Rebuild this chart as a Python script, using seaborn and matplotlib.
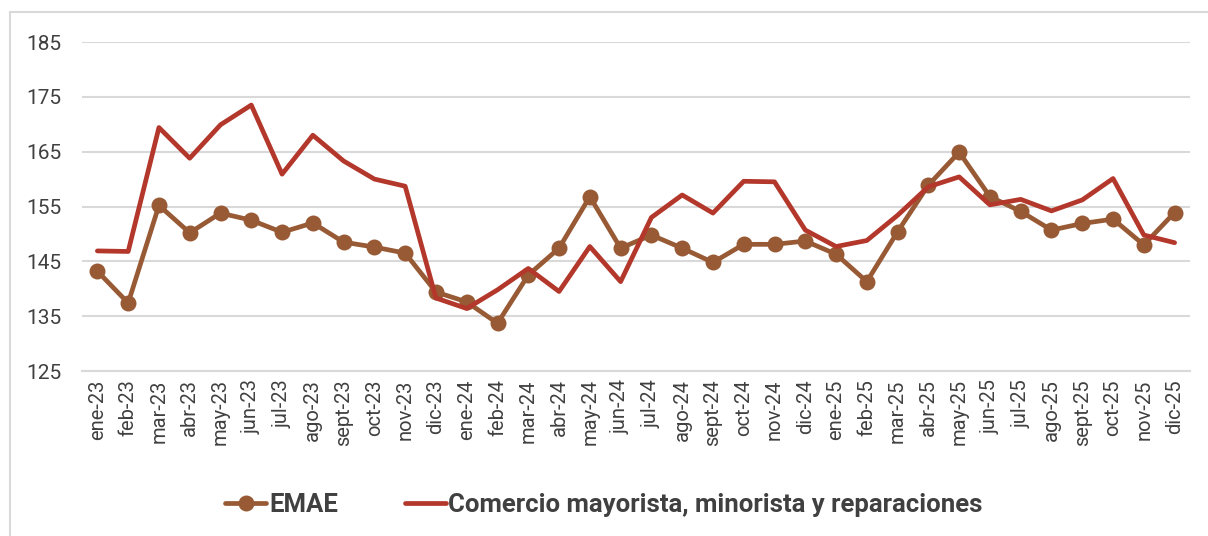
import matplotlib
matplotlib.use("Agg")
import matplotlib.pyplot as plt
import matplotlib.patches as patches
import pandas as pd
import seaborn as sns

# Data
months = ["ene-23", "feb-23", "mar-23", "abr-23", "may-23", "jun-23", "jul-23", "ago-23",
          "sept-23", "oct-23", "nov-23", "dic-23",
          "ene-24", "feb-24", "mar-24", "abr-24", "may-24", "jun-24", "jul-24", "ago-24",
          "sept-24", "oct-24", "nov-24", "dic-24",
          "ene-25", "feb-25", "mar-25", "abr-25", "may-25", "jun-25", "jul-25", "ago-25",
          "sept-25", "oct-25", "nov-25", "dic-25"]
emae = [143.2, 137.4, 155.2, 150.2, 153.8, 152.5, 150.3, 152.0, 148.5, 147.6, 146.5,
        139.4, 137.6, 133.7, 142.5, 147.4, 156.8, 147.4, 149.8, 147.4, 144.8, 148.1,
        148.1, 148.7, 146.3, 141.3, 150.4, 158.9, 164.9, 156.8, 154.1, 150.7, 151.9,
        152.7, 148.0, 153.9]
comercio = [146.9, 146.8, 169.4, 163.8, 169.9, 173.5, 160.9, 168.0, 163.3, 160.0, 158.7,
            138.3, 136.4, 139.8, 143.7, 139.5, 147.7, 141.3, 153.0, 157.1, 153.8, 159.6,
            159.5, 150.7, 147.7, 148.8, 153.4, 158.6, 160.4, 155.3, 156.3, 154.2, 156.2,
            160.1, 149.8, 148.4]
yticks = [125, 135, 145, 155, 165, 175, 185]

df = pd.DataFrame({"pos": range(len(months)), "mes": months,
                   "EMAE": emae, "Comercio": comercio})

sns.set_style("white")
plt.rcParams["font.family"] = ["Roboto", "DejaVu Sans"]

brown = "#985A35"
red = "#B3372B"
text_col = "#404040"
grid_col = "#D9D9D9"

fig = plt.figure(figsize=(12.08, 5.36), dpi=100)
ax = fig.add_axes([82 / 1208, 1 - 371 / 536, (1190 - 82) / 1208, (371 - 42) / 536])

# border of the chart area
fig.patches.append(patches.Rectangle((10 / 1208, -0.01), 1.0, 1 - 12 / 536 + 0.01,
                                     transform=fig.transFigure, fill=False,
                                     edgecolor=grid_col, linewidth=1.5))

sns.lineplot(data=df, x="pos", y="EMAE", ax=ax, color=brown, linewidth=3.4,
             marker="o", markersize=11.5, markeredgewidth=0, label="EMAE", zorder=3)
sns.lineplot(data=df, x="pos", y="Comercio", ax=ax, color=red, linewidth=3.4,
             label="Comercio mayorista, minorista y reparaciones", zorder=4)

ax.set_xlim(-0.5, len(months) - 0.5)
ax.set_ylim(125, 185)
ax.set_yticks(yticks)
ax.set_xticks(range(len(months)))
ax.set_xticklabels(months, rotation=90)
ax.set_xticks([i + 0.5 for i in range(-1, len(months))], minor=True)
ax.tick_params(axis="x", which="major", length=0, pad=6, labelsize=14.5, labelcolor=text_col)
ax.tick_params(axis="x", which="minor", length=5, width=1.3, color=grid_col)
ax.tick_params(axis="y", length=0, pad=15, labelsize=15, labelcolor=text_col)
ax.set_xlabel("")
ax.set_ylabel("")
ax.yaxis.grid(True, color=grid_col, linewidth=1.5)
ax.set_axisbelow(True)
for s in ["left", "right", "top"]:
    ax.spines[s].set_visible(False)
ax.spines["bottom"].set_color(grid_col)
ax.spines["bottom"].set_linewidth(1.5)

ax.get_legend().remove()
handles, labels = ax.get_legend_handles_labels()
fig.legend(handles, labels, loc="center", bbox_to_anchor=(0.5, 1 - 505 / 536), ncol=2,
           frameon=False, handlelength=1.6, columnspacing=2.6, handletextpad=0.1,
           prop={"weight": "bold", "size": 18.5}, labelcolor=text_col)

fig.savefig("out.png", dpi=100)
